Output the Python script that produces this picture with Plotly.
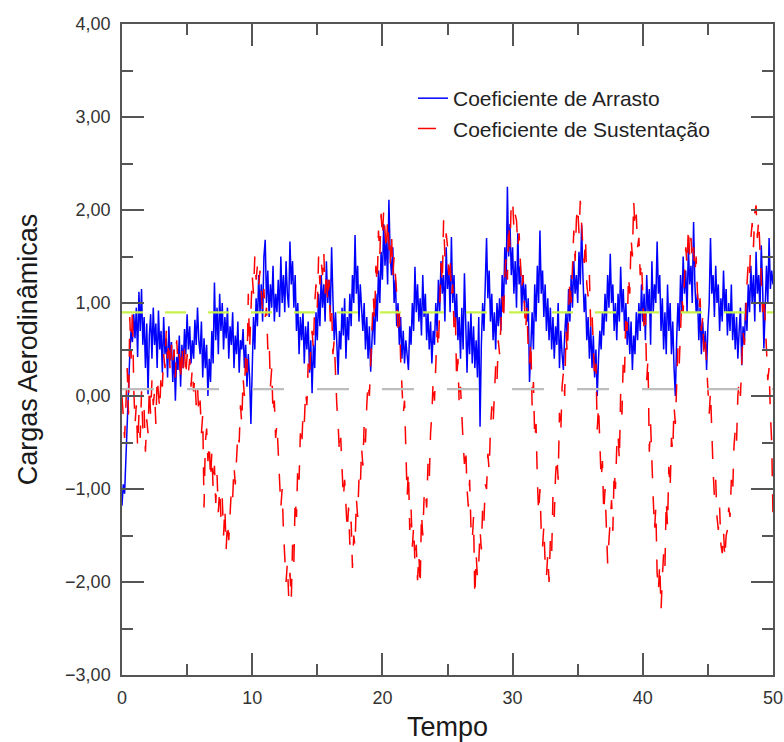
import numpy as np
import plotly.graph_objects as go

# Time axis: 0 to 50 s, sampled every 0.1 s
t_start, t_end, dt = 0.0, 50.0, 0.1

# Drag coefficient (Coeficiente de Arrasto), one row per second
cd = [
    -1.18, -0.95, -1.05, -0.62, -0.35, 0.10, 0.45, 0.72, 0.58, 0.88,
    0.62, 0.95, 0.42, 1.12, 0.70, 1.15, 0.55, 0.85, 0.30, 0.78,
    0.02, 0.65, 0.88, 0.40, 0.95, 0.55, 0.78, 0.30, 0.92, 0.50,
    0.70, 0.25, 0.85, 0.45, 0.62, 0.20, 0.75, 0.38, 0.58, 0.15,
    0.50, -0.05, 0.42, 0.28, 0.65, 0.10, 0.55, 0.30, 0.72, 0.45,
    0.88, 0.50, 0.75, 0.35, 0.60, 0.40, 0.82, 0.55, 0.95, 0.60,
    0.45, 0.80, 0.20, 0.62, 0.30, 0.55, 0.00, 0.40, 0.15, 0.70,
    0.35, 1.22, 0.60, 0.95, 0.45, 1.10, 0.70, 1.00, 0.50, 0.85,
    0.62, 0.95, 0.40, 0.75, 0.55, 0.90, 0.30, 0.65, 0.45, 0.80,
    0.25, 0.60, 0.50, 0.72, 0.30, 0.55, 0.10, 0.45, 0.20, -0.30,
    0.35, 0.85, 0.50, 1.05, 0.75, 1.30, 0.90, 1.20, 0.80, 1.50,
    1.68, 1.00, 1.35, 0.85, 1.20, 0.95, 1.40, 0.80, 1.10, 0.90,
    1.25, 0.85, 1.50, 1.00, 1.30, 0.90, 1.45, 1.10, 0.95, 1.66,
    1.20, 1.45, 0.95, 1.30, 0.70, 1.00, 0.45, 0.85, 0.60, 0.90,
    0.35, 0.75, 0.50, 0.80, 0.25, 0.60, 0.03, 0.55, 0.30, 0.90,
    0.60, 1.10, 0.75, 1.30, 0.95, 1.20, 0.80, 1.45, 1.00, 1.25,
    0.90, 1.60, 1.05, 0.60, 0.90, 0.45, 0.23, 0.70, 0.50, 0.95,
    0.65, 1.05, 0.40, 0.85, 0.60, 1.10, 0.75, 1.30, 1.00, 1.73,
    1.10, 1.40, 0.80, 1.20, 0.95, 0.70, 1.00, 0.50, 0.85, 0.40,
    0.75, 0.26, 0.60, 0.90, 0.55, 1.10, 0.80, 1.35, 1.00, 1.55,
    1.25, 1.85, 1.40, 1.70, 1.20, 2.11, 1.50, 1.30, 1.60, 1.00,
    1.25, 0.75, 1.00, 0.55, 0.85, 0.40, 0.70, 0.35, 0.60, 0.45,
    0.28, 0.75, 0.55, 1.00, 0.70, 1.39, 0.90, 1.20, 0.80, 1.05,
    0.65, 1.30, 0.85, 1.10, 0.60, 0.90, 0.50, 0.80, 0.35, 0.70,
    0.55, 1.00, 0.70, 1.25, 0.90, 1.45, 1.10, 1.30, 0.80, 1.60,
    1.15, 1.40, 0.90, 1.71, 1.00, 1.30, 0.75, 1.10, 0.60, 0.85,
    0.40, 0.95, 0.50, 1.32, 0.70, 0.25, 0.80, 0.45, 0.90, 0.35,
    0.75, 0.30, 0.60, 0.20, 0.85, -0.33, 0.55, 1.00, 0.70, 1.25,
    1.70, 1.05, 1.35, 0.80, 1.10, 0.60, 0.90, 0.50, 1.00, 0.75,
    1.05, 0.70, 1.30, 0.90, 1.60, 1.20, 2.25, 1.50, 1.85, 1.30,
    1.60, 1.10, 1.45, 0.95, 1.75, 1.20, 1.40, 0.90, 1.30, 1.00,
    1.20, 0.80, 1.05, 0.15, 0.60, 0.90, 0.50, 1.20, 0.80, 1.40,
    1.00, 1.78, 1.10, 1.35, 0.85, 1.20, 0.70, 1.05, 0.60, 0.95,
    0.50, 0.85, 0.40, 0.75, 0.55, 1.00, 0.30, 0.70, 0.45, 0.28,
    0.65, 0.90, 0.60, 1.15, 0.80, 1.30, 0.95, 1.45, 1.10, 1.30,
    1.00, 1.55, 1.20, 1.84, 1.30, 0.90, 1.10, 0.60, 0.85, 0.40,
    0.75, 0.30, 0.65, 0.20, 0.50, 0.00, 0.40, 0.70, 0.50, 0.90,
    0.65, 1.10, 0.80, 1.30, 0.95, 1.53, 1.00, 1.20, 0.70, 1.00,
    0.60, 1.10, 0.80, 1.39, 0.90, 1.15, 0.70, 1.00, 0.55, 0.85,
    0.45, 0.80, 0.28, 0.65, 0.45, 0.90, 0.60, 1.00, 0.70, 1.20,
    0.80, 1.10, 0.60, 1.30, 0.90, 1.15, 0.55, 1.45, 0.90, 1.20,
    1.00, 1.66, 1.10, 1.30, 0.70, 1.05, 0.50, 0.90, 0.45, 1.20,
    0.70, 1.00, 0.45, 0.80, 0.30, 0.00, 0.60, 1.00, 0.70, 1.30,
    0.90, 1.50, 1.10, 1.35, 0.90, 1.60, 1.20, 1.40, 1.00, 1.87,
    1.20, 0.90, 1.10, 0.60, 0.95, 0.45, 0.80, 0.50, 0.70, 0.28,
    0.75, 1.00, 1.70, 1.10, 1.30, 0.85, 1.40, 1.00, 1.20, 0.70,
    1.05, 0.80, 1.35, 0.90, 1.15, 0.65, 1.00, 0.70, 1.20, 0.60,
    0.90, 0.50, 0.85, 0.40, 0.70, 0.95, 0.33, 0.75, 0.55, 1.00,
    0.70, 1.20, 0.90, 1.40, 1.00, 1.30, 0.80, 1.55, 1.10, 1.30,
    0.90, 1.62, 1.20, 0.51, 0.95, 1.40, 1.00, 1.70, 1.15, 1.35,
    1.20,
]

# Lift coefficient (Coeficiente de Sustentação), one row per second
cl = [
    0.00, -0.25, -0.45, -0.10, 0.30, -0.20, 0.85, 0.40, 0.95, 0.10,
    -0.30, -0.10, -0.55, -0.20, -0.45, 0.05, -0.35, -0.15, -0.60, -0.25,
    -0.40, 0.10, -0.20, 0.17, -0.10, 0.05, -0.30, 0.20, 0.00, -0.15,
    0.25, 0.10, 0.45, 0.30, 0.70, 0.40, 0.60, 0.25, 0.55, 0.35,
    0.50, 0.20, 0.60, 0.35, 0.45, 0.15, 0.55, 0.30, 0.50, 0.20,
    0.45, 0.25, 0.40, 0.10, 0.30, 0.05, 0.20, -0.10, 0.10, -0.20,
    -0.05, -0.40, -0.20, -1.20, -0.50, -0.35, -0.70, -0.50, -0.90, -0.60,
    -1.00, -0.75, -1.15, -0.85, -1.25, -1.00, -1.30, -1.10, -1.50, -1.20,
    -1.65, -1.35, -1.55, -1.20, -1.00, -1.10, -0.75, -0.95, -0.60, -0.40,
    -0.50, -0.10, -0.30, 0.20, 0.00, 0.45, 0.25, 1.10, 0.50, 0.90,
    1.30, 1.10, 1.50, 1.25, 1.40, 1.20, 1.35, 1.10, 0.90, 1.15,
    0.85, 0.95, 0.50, 0.60, 0.10, 0.30, -0.20, -0.05, -0.45, -0.30,
    -0.70, -0.90, -1.20, -1.00, -1.45, -1.70, -2.00, -1.80, -2.15, -1.90,
    -2.20, -1.60, -1.80, -1.10, -1.30, -0.75, -0.90, -0.40, -0.55, -0.20,
    -0.30, 0.05, -0.10, 0.35, 0.20, 0.55, 0.70, 0.50, 1.00, 1.20,
    0.95, 1.50, 1.20, 1.45, 1.30, 1.55, 1.10, 1.35, 1.00, 1.25,
    0.80, 0.95, 0.45, 0.60, 0.17, -0.10, -0.30, -0.62, -0.45, -0.85,
    -1.10, -0.90, -1.26, -1.45, -1.20, -1.60, -1.35, -1.85, -1.50, -1.62,
    -1.10, -1.30, -0.90, -1.00, -0.55, -0.75, -0.30, -0.50, -0.10, 0.15,
    0.00, 0.35, 0.60, 1.07, 0.80, 1.40, 1.20, 1.78, 1.50, 1.96,
    1.70, 2.00, 1.78, 1.55, 1.90, 1.61, 1.40, 1.75, 1.30, 1.50,
    1.32, 1.10, 0.70, 0.90, 0.40, 0.17, -0.19, -0.05, -0.73, -1.08,
    -0.80, -1.44, -1.20, -1.62, -1.40, -1.80, -1.60, -1.98, -1.70, -2.05,
    -1.26, -1.50, -1.10, -1.00, -1.20, -0.73, -0.90, -0.40, -0.19, 0.17,
    -0.05, 0.30, 0.70, 0.50, 1.10, 1.43, 1.20, 1.89, 1.50, 1.75,
    1.61, 1.30, 1.50, 1.07, 1.20, 0.74, 0.90, 0.17, 0.40, -0.10,
    0.10, -0.26, -0.50, -0.73, -0.55, -1.00, -1.19, -0.90, -1.40, -1.55,
    -1.30, -2.16, -1.70, -1.95, -1.80, -1.44, -1.65, -1.20, -1.35, -0.95,
    -1.00, -0.62, -0.80, -0.35, -0.11, -0.30, 0.10, 0.32, 0.15, 0.60,
    0.45, 0.85, 1.07, 0.80, 1.30, 1.50, 1.25, 1.86, 1.60, 2.10,
    2.11, 1.80, 1.95, 1.89, 1.60, 1.75, 1.40, 1.14, 1.30, 0.90,
    0.70, 0.95, 0.50, 0.35, 0.60, -0.11, 0.15, -0.47, -0.30, -0.90,
    -1.26, -1.00, -1.45, -1.62, -1.40, -1.80, -1.94, -1.70, -2.00, -1.55,
    -1.70, -1.08, -1.30, -0.85, -0.65, -0.90, -0.18, -0.40, 0.10, 0.25,
    0.00, 0.70, 0.45, 0.90, 1.25, 1.00, 1.50, 1.78, 1.45, 1.90,
    2.04, 1.75, 2.10, 1.78, 1.60, 1.43, 1.70, 1.20, 1.07, 1.30,
    0.75, 0.90, 0.45, 0.17, 0.35, -0.36, -0.10, -0.60, -0.90, -0.70,
    -1.26, -1.00, -1.50, -1.80, -1.55, -1.30, -1.12, -1.45, -0.80, -1.00,
    -0.55, -0.40, -0.70, 0.03, -0.20, 0.40, 0.25, 0.90, 0.70, 1.30,
    1.10, 1.70, 1.50, 2.10, 1.80, 1.95, 1.60, 1.70, 1.30, 1.45,
    1.00, 0.70, 0.90, 0.17, 0.40, -0.60, -0.30, -0.83, -1.10, -1.44,
    -1.20, -1.90, -2.10, -1.80, -2.30, -1.95, -1.69, -1.85, -1.12, -1.40,
    -0.76, -1.00, -0.45, -0.60, -0.11, -0.30, 0.20, 0.53, 0.35, 0.80,
    1.07, 0.90, 1.30, 1.60, 1.40, 1.82, 1.50, 1.70, 1.45, 1.60,
    1.32, 1.50, 1.10, 0.90, 1.05, 0.70, 0.85, 0.45, 0.60, 0.32,
    0.10, -0.19, 0.05, -0.50, -0.80, -1.08, -0.90, -1.30, -1.44, -1.20,
    -1.60, -1.69, -1.45, -1.75, -1.50, -1.44, -1.20, -1.30, -0.90, -1.05,
    -0.55, -0.36, -0.50, 0.00, 0.17, 0.00, 0.45, 0.70, 0.55, 1.00,
    1.20, 1.43, 1.30, 1.70, 1.86, 1.60, 1.97, 2.05, 1.70, 1.90,
    1.50, 1.30, 0.90, 1.10, 0.70, 0.50, 0.17, 0.30, -0.19, -0.50,
    -1.30,
]

# Mean levels of each coefficient
cd_mean = [0.90]
cl_mean = [0.075]

series_names = ["Coeficiente de Arrasto", "Coeficiente de Sustentação"]
x_ticks = [0, 10, 20, 30, 40, 50]
y_ticks = [-3, -2, -1, 0, 1, 2, 3, 4]

t = np.round(np.arange(len(cd)) * dt, 2)
t_cl = np.round(np.arange(len(cl)) * dt, 2)

FONT = "Liberation Sans, Arial, sans-serif"
AXIS_COLOR = "#555555"

fig = go.Figure()

fig.add_trace(go.Scatter(
    x=t, y=cd, mode="lines", name=series_names[0],
    line=dict(color="#0000ff", width=1.5),
))
fig.add_trace(go.Scatter(
    x=t_cl, y=cl, mode="lines", name=series_names[1],
    line=dict(color="#ff0000", width=1.5, dash="18px,18px"),
))
# Mean lines drawn over the signals
fig.add_trace(go.Scatter(
    x=[t_start, t_end], y=cd_mean * 2, mode="lines", showlegend=False,
    line=dict(color="#c6f24a", width=2.2, dash="21px,22px"), hoverinfo="skip",
))
fig.add_trace(go.Scatter(
    x=[t_start, t_end], y=cl_mean * 2, mode="lines", showlegend=False,
    line=dict(color="#bdbdbd", width=2.2, dash="32px,33px"), hoverinfo="skip",
))

axis_common = dict(
    showline=True, linecolor=AXIS_COLOR, linewidth=1.5, mirror="ticks",
    ticks="inside", ticklen=22, tickwidth=1.5, tickcolor=AXIS_COLOR,
    showgrid=False, zeroline=False,
    tickfont=dict(family=FONT, size=18, color="#333333"),
)

fig.update_xaxes(
    range=[t_start, t_end], tickvals=x_ticks,
    minor=dict(ticks="inside", ticklen=11, tickwidth=1.5, tickcolor=AXIS_COLOR, dtick=5, tick0=0),
    title=dict(text="Tempo", font=dict(family=FONT, size=27, color="#1a1a1a"), standoff=12),
    ticklabelstandoff=6,
    **axis_common,
)
fig.update_yaxes(
    range=[y_ticks[0], y_ticks[-1]], tickvals=y_ticks, tickformat=".2f",
    minor=dict(ticks="inside", ticklen=11, tickwidth=1.5, tickcolor=AXIS_COLOR, dtick=0.5, tick0=0),
    title=dict(text="Cargas Aerodinâmicas", font=dict(family=FONT, size=27, color="#1a1a1a"), standoff=20),
    ticklabelstandoff=6,
    **axis_common,
)

fig.update_layout(
    width=784, height=742,
    margin=dict(l=122, r=11, t=24, b=67, autoexpand=False),
    paper_bgcolor="white", plot_bgcolor="white",
    separators=",.",
    showlegend=True,
    legend=dict(
        x=0.447, y=0.917, xanchor="left", yanchor="top",
        bgcolor="rgba(0,0,0,0)", borderwidth=0,
        font=dict(family=FONT, size=21, color="#222222"),
        tracegroupgap=0,
    ),
)

fig.write_html("out.html")
